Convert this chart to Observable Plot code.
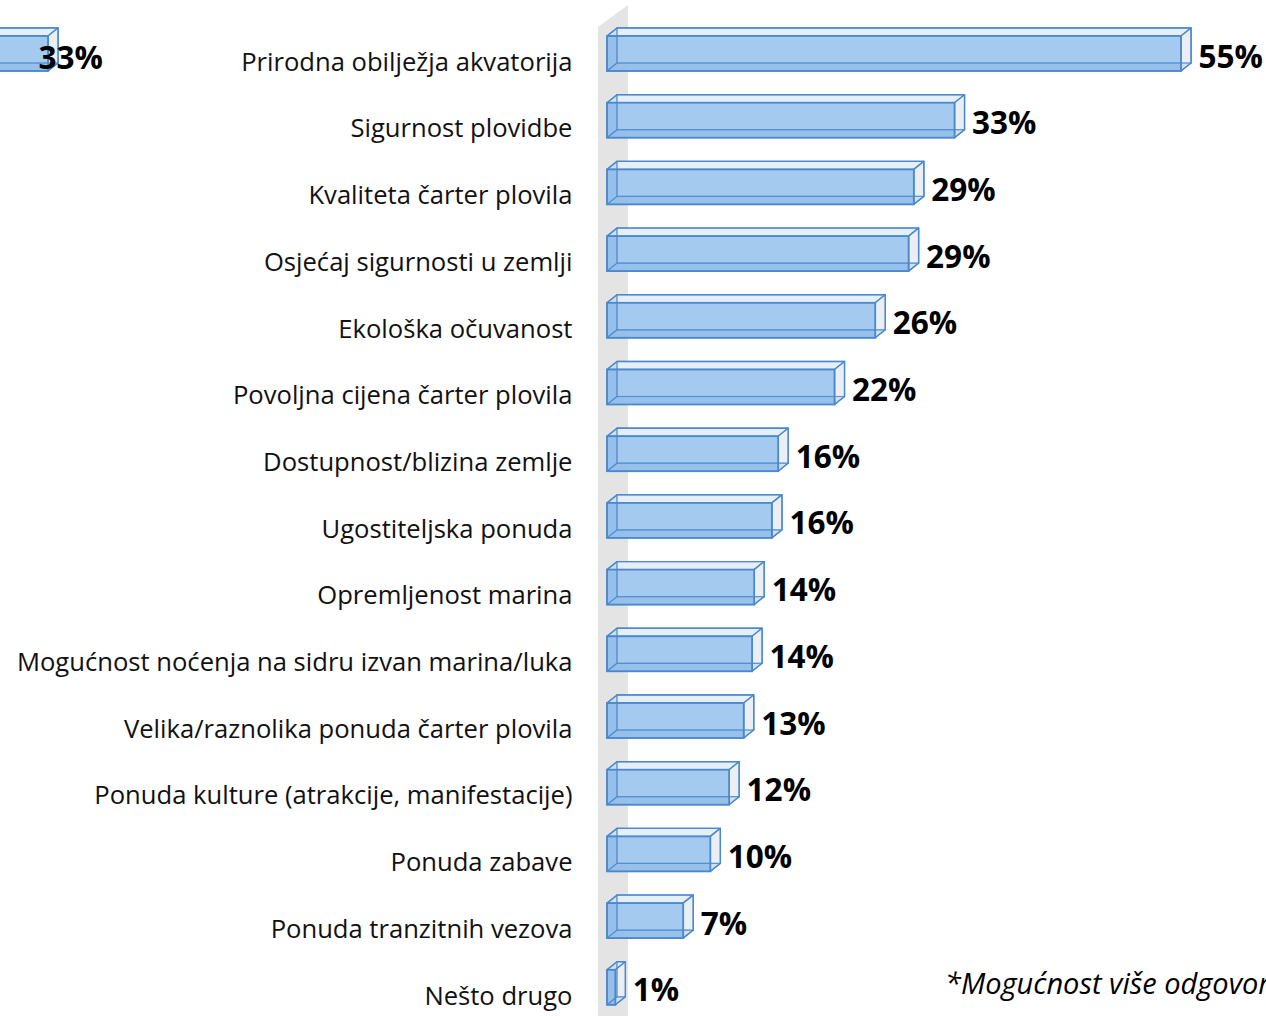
<!DOCTYPE html>
<html>
<head>
<meta charset="utf-8">
<script src="https://cdn.jsdelivr.net/npm/d3@7"></script>
<script src="https://cdn.jsdelivr.net/npm/@observablehq/plot@0.6"></script>
<style>
  html, body { margin: 0; padding: 0; background: #fff; overflow: hidden; width: 1266px; height: 1016px; }
  #wrap { position: relative; width: 1266px; height: 1016px; overflow: hidden; }
  #main, #frag { position: absolute; left: 0; top: 0; }
  #note { position: absolute; left: 945px; top: 966px; font-family: "Open Sans", sans-serif; font-style: italic; font-size: 29px; line-height: 34px; white-space: nowrap; color: #000; }
</style>
</head>
<body>
<div id="wrap">
  <div id="main"></div>
  <div id="frag"></div>
  <div id="note"></div>
</div>
<script>
// ---- data ----
const categories = [
  "Prirodna obilježja akvatorija",
  "Sigurnost plovidbe",
  "Kvaliteta čarter plovila",
  "Osjećaj sigurnosti u zemlji",
  "Ekološka očuvanost",
  "Povoljna cijena čarter plovila",
  "Dostupnost/blizina zemlje",
  "Ugostiteljska ponuda",
  "Opremljenost marina",
  "Mogućnost noćenja na sidru izvan marina/luka",
  "Velika/raznolika ponuda čarter plovila",
  "Ponuda kulture (atrakcije, manifestacije)",
  "Ponuda zabave",
  "Ponuda tranzitnih vezova",
  "Nešto drugo"
];
const values = [55, 33.3, 29.4, 28.9, 25.7, 21.8, 16.4, 15.8, 14.1, 13.9, 13.1, 11.7, 9.9, 7.3, 0.8];
// fragment of a neighbouring chart visible at the top-left edge
const fragmentValues = [33];
const footnote = "*Mogućnost više odgovora";

// ---- layout ----
const W = 1266, H = 1016;
const mLeft = 607, mRight = 85, mTop = 53.5, mBottom = 28.7;
const xMax = 55;
const kx = (W - mLeft - mRight) / xMax;           // px per %
const ky = (H - mTop - mBottom) / (categories.length - 1); // px per row
const depthPx = {x: 10, y: 8};
const halfPx = 17.5;
const dX = depthPx.x / kx, dY = depthPx.y / ky, hh = halfPx / ky;

const C = {
  wall: "#e4e4e4",
  front: "#a0c7ee",
  edge: "#4a89cd",
  top: "#e6eef8",
  side: "#ebeff4"
};

const rows = categories.map((c, i) => ({c, i, v: values[i]}));

function faces(rs) {
  return {
    top: rs.flatMap(r => [{i: r.i, y: r.i - hh, x1: 0, x2: r.v}, {i: r.i, y: r.i - hh - dY, x1: dX, x2: r.v + dX}]),
    side: rs.flatMap(r => [{i: r.i, x: r.v, y1: r.i - hh, y2: r.i + hh}, {i: r.i, x: r.v + dX, y1: r.i - hh - dY, y2: r.i + hh - dY}]),
    bottom: rs.flatMap(r => [{i: r.i, y: r.i + hh, x1: 0, x2: r.v}, {i: r.i, y: r.i + hh - dY, x1: dX, x2: r.v + dX}]),
    left: rs.flatMap(r => [{i: r.i, x: 0, y1: r.i - hh, y2: r.i + hh}, {i: r.i, x: dX, y1: r.i - hh - dY, y2: r.i + hh - dY}])
  };
}

function barMarks(rs) {
  const f = faces(rs);
  return [
    Plot.rect(rs, {x1: 0, x2: "v", y1: d => d.i - hh, y2: d => d.i + hh, dx: depthPx.x, dy: -depthPx.y, fill: C.side, stroke: C.edge, strokeWidth: 1.2}),
    Plot.areaX(f.top, {y: "y", x1: "x1", x2: "x2", z: "i", fill: C.top, stroke: C.edge, strokeWidth: 1.4}),
    Plot.areaY(f.side, {x: "x", y1: "y1", y2: "y2", z: "i", fill: C.side, stroke: C.edge, strokeWidth: 1.4}),
    Plot.rect(rs, {x1: 0, x2: "v", y1: d => d.i - hh, y2: d => d.i + hh, fill: C.front, fillOpacity: 0.95, stroke: C.edge, strokeWidth: 1.8}),
    Plot.areaX(f.bottom, {y: "y", x1: "x1", x2: "x2", z: "i", fill: C.edge, fillOpacity: 0.14, stroke: C.edge, strokeOpacity: 0.7, strokeWidth: 1.2}),
    Plot.areaY(f.left, {x: "x", y1: "y1", y2: "y2", z: "i", fill: C.edge, fillOpacity: 0.14, stroke: C.edge, strokeOpacity: 0.7, strokeWidth: 1.2}),
    Plot.rect(rs, {x1: 0, x2: "v", y1: d => d.i - hh, y2: d => d.i + hh, dx: depthPx.x, dy: -depthPx.y, fill: "none", stroke: C.edge, strokeOpacity: 0.55, strokeWidth: 1.2})
  ];
}

// wall (3D side wall of the plot area), defined in pixels and converted to data units
const wallPx = {xl: 598, xr: 628, topL: 27, topR: 5, bottom: H + 5};
const toX = px => (px - mLeft) / kx, toY = py => (py - mTop) / ky;
const wall = [
  {x: toX(wallPx.xl), y1: toY(wallPx.topL), y2: toY(wallPx.bottom)},
  {x: toX(wallPx.xr), y1: toY(wallPx.topR), y2: toY(wallPx.bottom)}
];

const yScale = {domain: [0, categories.length - 1], reverse: true, axis: null};

const main = Plot.plot({
  width: W, height: H,
  marginLeft: mLeft, marginRight: mRight, marginTop: mTop, marginBottom: mBottom,
  x: {domain: [0, xMax], axis: null},
  y: yScale,
  style: {fontFamily: "'Open Sans', sans-serif", background: "transparent", overflow: "visible"},
  marks: [
    Plot.areaY(wall, {x: "x", y1: "y1", y2: "y2", fill: C.wall}),
    ...barMarks(rows),
    Plot.text(rows, {x: 0, y: "i", text: "c", textAnchor: "end", dx: -35, dy: 8.5, fontSize: 25.6, fill: "#111"}),
    Plot.text(rows, {x: "v", y: "i", text: d => Math.round(d.v) + "%", textAnchor: "start", dx: 17, dy: 3.5, fontSize: 31.5, fontWeight: "bold", fill: "#000"})
  ]
});
document.getElementById("main").append(main);

// fragment bar (neighbouring chart, cut by the left edge)
const fragRows = fragmentValues.map((v, i) => ({i, v}));
const fragW = 120, fragEnd = 48;
const frag = Plot.plot({
  width: fragW, height: H,
  marginLeft: fragEnd - fragmentValues[0] * kx, marginRight: fragW - fragEnd, marginTop: mTop, marginBottom: mBottom,
  x: {domain: [0, fragmentValues[0]], axis: null},
  y: yScale,
  style: {fontFamily: "'Open Sans', sans-serif", background: "transparent"},
  marks: [
    ...barMarks(fragRows),
    Plot.text(fragRows, {x: "v", y: "i", text: d => Math.round(d.v) + "%", textAnchor: "start", dx: -10, dy: 4.5, fontSize: 31.5, fontWeight: "bold", fill: "#000"})
  ]
});
document.getElementById("frag").append(frag);

document.getElementById("note").textContent = footnote;
</script>
</body>
</html>
